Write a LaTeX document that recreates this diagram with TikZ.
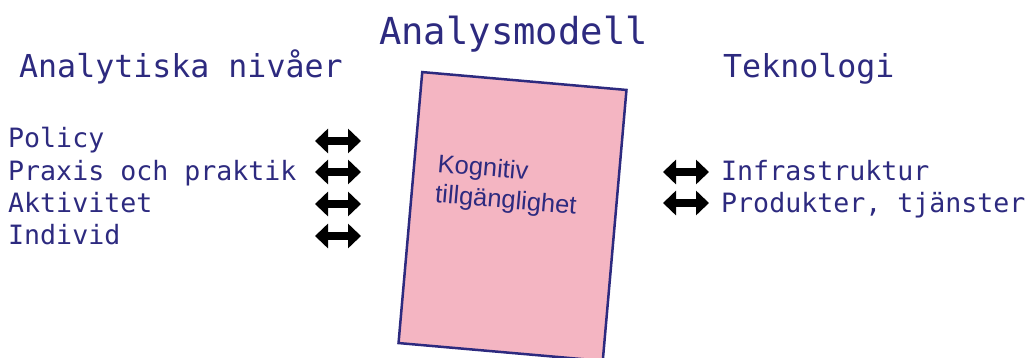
\documentclass[tikz,border=0pt]{standalone}
\usepackage{fontspec}
\setmainfont{Liberation Sans}
\setmonofont{DejaVu Sans Mono}
\usepackage{xcolor}
\usetikzlibrary{arrows.meta}
\definecolor{modelblue}{HTML}{2D2A7F}
\definecolor{modelpink}{HTML}{F4B5C2}
\tikzset{
  title/.style={font=\ttfamily\fontsize{37.2}{40}\selectfont, text=modelblue, inner sep=0pt, anchor=base west},
  heading/.style={font=\ttfamily\fontsize{31.6}{36}\selectfont, text=modelblue, inner sep=0pt, anchor=base west},
  level/.style={font=\ttfamily\fontsize{26.6}{30}\selectfont, text=modelblue, inner sep=0pt, anchor=base west},
  boxtext/.style={font=\fontsize{25.5}{30}\selectfont, text=modelblue, inner sep=0pt, anchor=base west, rotate=-5},
  link/.style={line width=7.5pt, {Triangle[length=13pt,width=24pt]}-{Triangle[length=13pt,width=24pt]}}
}

\begin{document}
\begin{tikzpicture}[x=1pt,y=-1pt]
		\useasboundingbox (0,0) rectangle (1027,358);
		% the model sheet
		\node (model) [draw=modelblue, fill=modelpink, line width=2.5pt, inner sep=0pt,
			minimum width=205pt, minimum height=272pt, rotate=-5] at (512.5,216.5) {};
		\node (kognitiv) [boxtext] at (437,172) {Kognitiv};
		\node (tillg) [boxtext] at (434.4,202) {tillgänglighet};
		%
		\node (modell) [title] at (379,45) {Analysmodell};
		\node (nivaer) [heading] at (19,78) {Analytiska nivåer};
		\node (teknik) [heading] at (723,78) {Teknologi};
		%
		\node (policy) [level] at (8,148) {Policy};
		\node (praxis) [level] at (8,180) {Praxis och praktik};
		\node (aktivitet) [level] at (8,212) {Aktivitet};
		\node (individ) [level] at (8,244) {Individ};
		\node (infra) [level] at (721,180) {Infrastruktur};
		\node (produkt) [level] at (721,212) {Produkter, tjänster};
		%
		\coordinate (policyA) at (315,141);
		\coordinate (policyB) at (361,141);
		\coordinate (praxisA) at (315,172);
		\coordinate (praxisB) at (361,172);
		\coordinate (aktivA) at (315,204);
		\coordinate (aktivB) at (361,204);
		\coordinate (indivA) at (315,236);
		\coordinate (indivB) at (361,236);
		\coordinate (infraA) at (663,172);
		\coordinate (infraB) at (709,172);
		\coordinate (produktA) at (663,203);
		\coordinate (produktB) at (709,203);
		\draw[link] (policyA) -- (policyB);
		\draw[link] (praxisA) -- (praxisB);
		\draw[link] (aktivA) -- (aktivB);
		\draw[link] (indivA) -- (indivB);
		\draw[link] (infraA) -- (infraB);
		\draw[link] (produktA) -- (produktB);
	\end{tikzpicture}
\end{document}
